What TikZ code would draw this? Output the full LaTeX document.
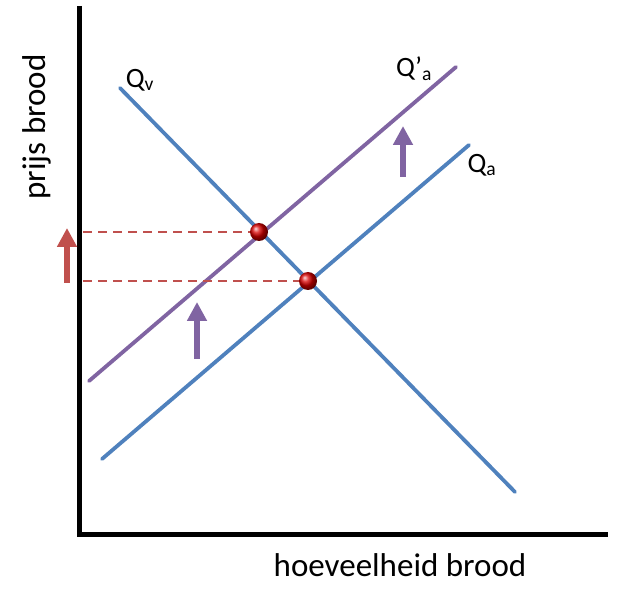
\documentclass[tikz,border=0pt]{standalone}
\usepackage{fontspec}
\setmainfont{Carlito}
\usetikzlibrary{arrows.meta,positioning}
\definecolor{lineblue}{HTML}{4F81BD}
\definecolor{linepurple}{HTML}{8064A2}
\definecolor{linered}{HTML}{C0504D}
\tikzset{
  curve/.style={line width=3.8pt, line cap=round},
  helpline/.style={linered, line width=1.8pt, dash pattern=on 9pt off 6pt},
  shift arrow/.style={line width=6pt, -{Triangle[length=19pt,width=19pt]}},
  eqpoint/.style={circle, minimum size=18pt, inner sep=0pt, shading=ball, ball color=red!85!black},
  lbl/.style={font=\fontsize{33}{36}\selectfont, inner sep=0pt},
  qlbl/.style={font=\fontsize{28}{30}\selectfont, inner sep=0pt}
}

\begin{document}
\begin{tikzpicture}[x=1pt,y=-1pt]
  \useasboundingbox (0,0) rectangle (619,604);
  % axes
  \coordinate (top) at (79,6);
  \coordinate (origin) at (79,534);
  \coordinate (right) at (608,534);
  \draw [line width=5pt] (top) -- (origin) -- (right);
  \node [lbl, rotate=90] at (37,127) (ylab) {prijs brood};
  \node [lbl] at (400,565) (xlab) {hoeveelheid brood};
  % curves
  \coordinate (v0) at (120,88);
  \coordinate (v1) at (515,492);
  \coordinate (a0) at (102,459);
  \coordinate (a1) at (469,145);
  \coordinate (b0) at (89,381);
  \coordinate (b1) at (456,67);
  \draw [curve, lineblue] (v0) -- (v1);
  \draw [curve, lineblue] (a0) -- (a1);
  \draw [curve, linepurple] (b0) -- (b1);
  \node [qlbl] at (140,80) (qv) {Q\textsubscript{v}};
  \node [qlbl] at (414,69) (qa2) {Q’\textsubscript{a}};
  \node [qlbl] at (482,165) (qa) {Q\textsubscript{a}};
  % equilibria
  \node [eqpoint] at (259,232) (e1) {};
  \node [eqpoint] at (308,281) (e0) {};
  \coordinate (p1) at (83,232);
  \coordinate (p0) at (83,281);
  \draw [helpline] (p1) -- (e1.west);
  \draw [helpline] (p0) -- (e0.west);
  % shifts
  \coordinate (r0) at (67,283);
  \coordinate (r1) at (67,228);
  \coordinate (s0) at (197,359);
  \coordinate (s1) at (197,302);
  \coordinate (t0) at (403,177);
  \coordinate (t1) at (403,126);
  \draw [shift arrow, linered] (r0) -- (r1);
  \draw [shift arrow, linepurple] (s0) -- (s1);
  \draw [shift arrow, linepurple] (t0) -- (t1);
\end{tikzpicture}
\end{document}
